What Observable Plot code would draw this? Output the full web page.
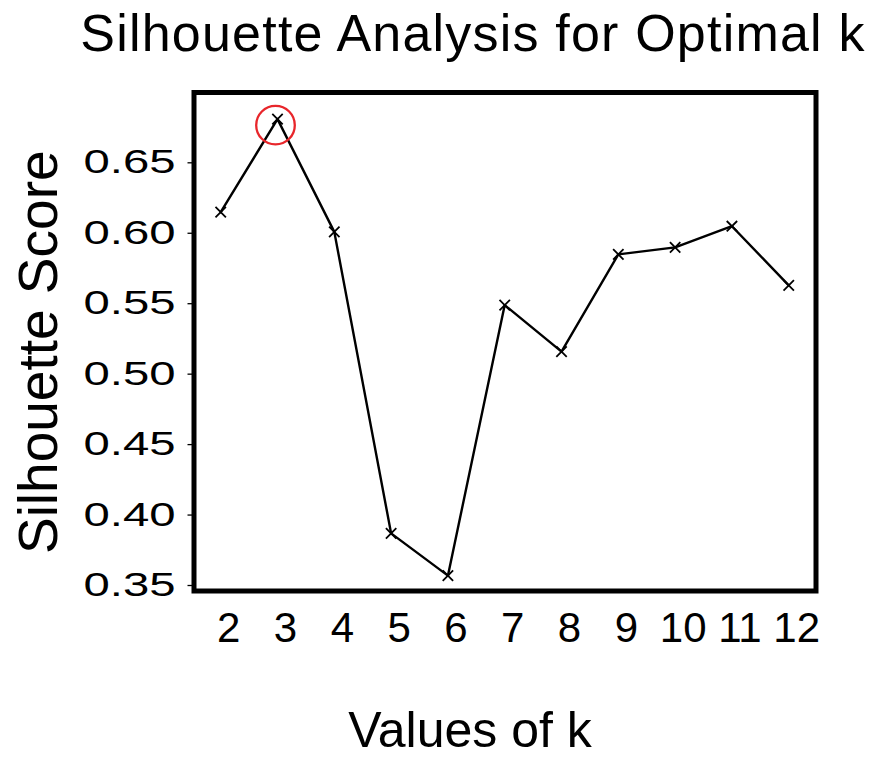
<!DOCTYPE html>
<html>
<head>
<meta charset="utf-8">
<script src="https://cdn.jsdelivr.net/npm/d3@7"></script>
<script src="https://cdn.jsdelivr.net/npm/@observablehq/plot@0.6"></script>
<style>
  html, body { margin: 0; padding: 0; background: #fff; }
  #chart { width: 876px; height: 760px; }
</style>
</head>
<body>
<div id="chart"></div>
<script>
const kValues = [2, 3, 4, 5, 6, 7, 8, 9, 10, 11, 12];
const scores = [0.615, 0.681, 0.601, 0.387, 0.357, 0.549, 0.516, 0.585, 0.590, 0.605, 0.563];
const yTicks = [0.35, 0.40, 0.45, 0.50, 0.55, 0.60, 0.65];
const optimalK = 3;
const titleText = "Silhouette Analysis for Optimal k";
const xLabel = "Values of k";
const yLabel = "Silhouette Score";

const data = kValues.map((k, i) => ({k, score: scores[i]}));
const best = data.filter(d => d.k === optimalK);

const chart = Plot.plot({
  width: 876,
  height: 760,
  marginTop: 92,
  marginBottom: 169.5,
  marginLeft: 193.5,
  marginRight: 60.5,
  style: {fontFamily: "'Liberation Sans', Arial, sans-serif", background: "white", color: "black"},
  x: {domain: [1.53, 12.48]},
  y: {domain: [0.3461, 0.6999]},
  marks: [
    Plot.axisY({ticks: yTicks, tickFormat: d3.format(".2f"), tickSize: 6, tickPadding: 12.5, fontSize: 33, strokeWidth: 1.3, label: null}),
    Plot.axisX({ticks: kValues, tickFormat: d => String(d), tickSize: 0, tickPadding: 21.5, fontSize: 42, dx: 8, label: null}),
    Plot.line(data, {x: "k", y: "score", stroke: "black", strokeWidth: 2.4}),
    Plot.dot(data, {x: "k", y: "score", symbol: "times", r: 4.8, stroke: "black", strokeWidth: 1.8}),
    Plot.dot(best, {x: "k", y: "score", r: 19.3, stroke: "#e8262b", strokeWidth: 2.3, fill: "none", dx: -2, dy: 6}),
    Plot.frame({stroke: "black", strokeWidth: 5}),
    Plot.text([titleText], {frameAnchor: "top", lineAnchor: "bottom", textAnchor: "middle", dy: -42, dx: -32, fontSize: 52, fill: "black"}),
    Plot.text([xLabel], {frameAnchor: "bottom", lineAnchor: "bottom", textAnchor: "middle", dy: 156, dx: -35, fontSize: 50, fill: "black"}),
    Plot.text([yLabel], {frameAnchor: "left", lineAnchor: "bottom", textAnchor: "middle", rotate: -90, dx: -137.5, dy: 10.5, fontSize: 55, fill: "black"})
  ]
});

const svg = d3.select(chart);
svg.selectAll("g[aria-label='y-axis tick label'] text")
  .attr("textLength", 92)
  .attr("lengthAdjust", "spacingAndGlyphs");
svg.selectAll("text").filter(function() { return this.textContent === titleText; })
  .attr("letter-spacing", "1.2px");

document.getElementById("chart").appendChild(chart);
</script>
</body>
</html>
